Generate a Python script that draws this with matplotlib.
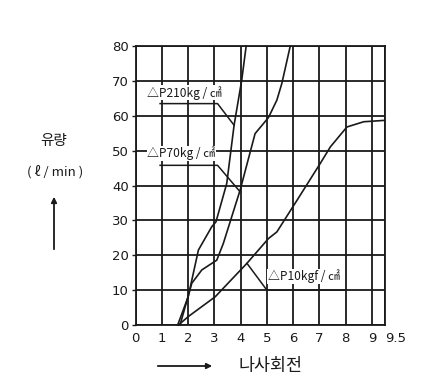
import matplotlib
matplotlib.use("Agg")
import matplotlib.pyplot as plt

# Data
p210_x = [1.6, 2.0, 2.39, 2.9, 3.06, 3.47, 3.75, 4.04, 4.21]
p210_y = [0, 8.1, 21.5, 28.2, 29.6, 40.6, 57.3, 70.2, 80]
p70_x = [1.69, 2.14, 2.52, 3.09, 3.34, 3.98, 4.55, 5.06, 5.38, 5.57, 5.89]
p70_y = [0, 12, 15.8, 18.6, 23.4, 38.7, 54.9, 59.5, 64.5, 69.3, 80]
p10_x = [1.63, 2.0, 3.03, 4.24, 5.06, 5.38, 6.15, 7.03, 7.42, 8.05, 8.69, 9.5]
p10_y = [0, 2.4, 8.1, 17.7, 24.8, 26.7, 35.8, 46.3, 51.1, 56.8, 58.3, 58.7]

x_ticks = [0, 1, 2, 3, 4, 5, 6, 7, 8, 9, 9.5]
x_labels = ["0", "1", "2", "3", "4", "5", "6", "7", "8", "9", "9.5"]
y_ticks = [0, 10, 20, 30, 40, 50, 60, 70, 80]
y_labels = ["0", "10", "20", "30", "40", "50", "60", "70", "80"]

labels = ["△P210kg / ㎠", "△P70kg / ㎠", "△P10kgf / ㎠"]
# leader lines
lead210_x = [0.93, 3.12, 3.75]
lead210_y = [63.5, 63.5, 57.3]
lead70_x = [0.93, 3.12, 3.98]
lead70_y = [45.8, 45.8, 38.2]
lead10_x = [4.24, 5.0, 7.99]
lead10_y = [17.7, 10.0, 10.0]

FAM = ["Noto Sans CJK KR", "DejaVu Sans"]
ink = "#1a1a1a"

fig = plt.figure(figsize=(4.43, 3.84), dpi=100)
fig.patch.set_facecolor("white")
ax = fig.add_axes([0.3063, 0.1536, 0.5627, 0.7264])
ax.set_xlim(0, 9.5)
ax.set_ylim(0, 80)

for xv in x_ticks:
    ax.axvline(xv, color=ink, lw=1.3, zorder=1)
for yv in y_ticks:
    ax.axhline(yv, color=ink, lw=1.3, zorder=1)

for xs, ys in [(p210_x, p210_y), (p70_x, p70_y), (p10_x, p10_y)]:
    ax.plot(xs, ys, color=ink, lw=1.2, zorder=3, clip_on=False)

for xs, ys in [(lead210_x, lead210_y), (lead70_x, lead70_y), (lead10_x, lead10_y)]:
    ax.plot(xs, ys, color=ink, lw=1.1, zorder=3)

tkw = dict(fontsize=8.6, family=FAM, color=ink, va="center", ha="left",
           bbox=dict(facecolor="white", edgecolor="none", pad=0.5), zorder=4)
ax.text(0.45, 66.6, labels[0], **tkw)
ax.text(0.45, 49.2, labels[1], **tkw)
ax.text(5.05, 13.9, labels[2], **tkw)

ax.set_xticks(x_ticks)
ax.set_xticklabels(x_labels, fontsize=9.5, color=ink)
lab = ax.get_xticklabels()[-1]
lab.set_ha("left")
lab.set_x(9.35)
ax.set_yticks(y_ticks)
ax.set_yticklabels(y_labels, fontsize=9.5, color=ink)
ax.tick_params(axis="x", length=0, pad=5)
ax.tick_params(axis="y", length=3, width=1, pad=2, color=ink)
for s in ax.spines.values():
    s.set_color(ink)
    s.set_linewidth(1.3)

# axis labels
fig.text(54 / 443, 1 - 141 / 384, "유량", family=FAM, fontsize=10.5, ha="center", va="center", color=ink)
fig.text(55 / 443, 1 - 172 / 384, "( ℓ / min )", family=FAM, fontsize=9.5, ha="center", va="center", color=ink)
fig.add_artist(matplotlib.patches.FancyArrowPatch((54 / 443, 1 - 252 / 384), (54 / 443, 1 - 194 / 384),
               transform=fig.transFigure, arrowstyle="-|>", mutation_scale=8, color=ink, lw=1.3))
fig.add_artist(matplotlib.patches.FancyArrowPatch((155 / 443, 1 - 366 / 384), (215 / 443, 1 - 366 / 384),
               transform=fig.transFigure, arrowstyle="-|>", mutation_scale=8, color=ink, lw=1.3))
fig.text(270 / 443, 1 - 366 / 384, "나사회전", family=FAM, fontsize=12.5, ha="center", va="center", color=ink)

fig.savefig("out.png", dpi=100, facecolor="white")
